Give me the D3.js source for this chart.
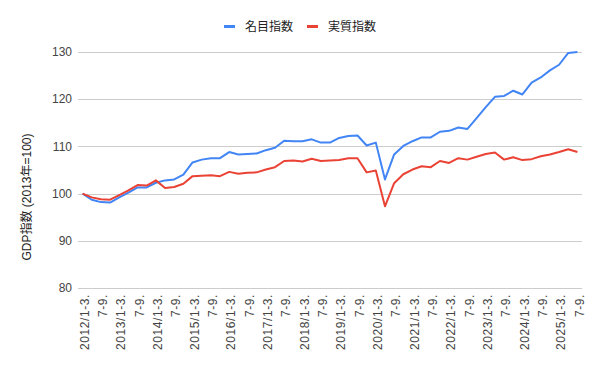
<!DOCTYPE html>
<html>
<head>
<meta charset="utf-8">
<script src="https://cdn.jsdelivr.net/npm/d3@7"></script>
<style>
  body { margin: 0; background: #fff; }
  svg { font-family: "Liberation Sans", Arial, "Noto Sans CJK JP", sans-serif; }
  .grid line { stroke: #cccccc; stroke-width: 1; shape-rendering: crispEdges; }
  .tick-label { fill: #444; font-size: 12px; }
  .x-label { letter-spacing: 0.6px; }
  .legend-text { fill: #222; font-size: 12px; font-family: "Noto Sans CJK JP", sans-serif; }
</style>
</head>
<body>
<div id="chart"></div>
<script>
// quarters, 2012/1-3 .. 2025/7-9
const years = [2012, 2013, 2014, 2015, 2016, 2017, 2018, 2019, 2020, 2021, 2022, 2023, 2024, 2025];
const quarterNames = ['1-3.', '4-6.', '7-9.', '10-12.'];
const yTicks = [80, 90, 100, 110, 120, 130];

// 名目指数 (nominal)
const nominal = [100, 98.7, 98.2, 98.1, 99.2, 100.2, 101.3, 101.3, 102.3, 102.8,
  103.0, 104.0, 106.6, 107.2, 107.5, 107.5, 108.8, 108.3, 108.4, 108.5,
  109.2, 109.7, 111.2, 111.1, 111.1, 111.5, 110.8, 110.8, 111.8, 112.2,
  112.3, 110.2, 110.8, 103.0, 108.3, 110.1, 111.1, 111.9, 111.9, 113.1,
  113.3, 114.0, 113.7, 116.0, 118.3, 120.5, 120.7, 121.8, 121.0, 123.5,
  124.6, 126.1, 127.3, 129.8, 130.0];

// 実質指数 (real)
const real = [100, 99.2, 98.8, 98.7, 99.7, 100.7, 101.8, 101.7, 102.8, 101.2,
  101.4, 102.1, 103.7, 103.8, 103.9, 103.7, 104.6, 104.2, 104.4, 104.5,
  105.1, 105.6, 106.9, 107.0, 106.8, 107.4, 106.9, 107.0, 107.1, 107.5,
  107.5, 104.5, 104.9, 97.3, 102.2, 104.1, 105.1, 105.8, 105.6, 106.9,
  106.5, 107.5, 107.2, 107.8, 108.4, 108.7, 107.2, 107.7, 107.1, 107.3,
  107.9, 108.3, 108.8, 109.4, 108.8];

const seriesNames = ['名目指数', '実質指数'];
const colors = ['#4285f4', '#ea4335'];

// build category list (full label for 1-3, short otherwise)
const categories = [];
years.forEach(y => quarterNames.forEach((q, i) => {
  categories.push(i === 0 ? `${y}/${q}` : q);
}));
categories.length = nominal.length;
const keys = categories.map((c, i) => i);

const width = 600, height = 371;
const margin = {top: 52, right: 18, bottom: 83, left: 78};

const svg = d3.select('#chart').append('svg')
    .attr('width', width)
    .attr('height', height);

const x = d3.scalePoint()
    .domain(keys)
    .range([margin.left, width - margin.right])
    .padding(0.5);

const y = d3.scaleLinear()
    .domain([80, 130])
    .range([height - margin.bottom, margin.top]);

// gridlines
svg.append('g').attr('class', 'grid')
  .selectAll('line')
  .data(yTicks)
  .join('line')
    .attr('x1', margin.left)
    .attr('x2', width - margin.right)
    .attr('y1', d => Math.round(y(d)) + 0.5)
    .attr('y2', d => Math.round(y(d)) + 0.5);

// y tick labels
svg.append('g')
  .selectAll('text')
  .data(yTicks)
  .join('text')
    .attr('class', 'tick-label')
    .attr('x', margin.left - 6)
    .attr('y', d => y(d))
    .attr('dy', '0.35em')
    .attr('text-anchor', 'end')
    .text(d => d);

// x tick labels, every other quarter
svg.append('g')
  .selectAll('text')
  .data(keys.filter(i => i % 2 === 0))
  .join('text')
    .attr('class', 'tick-label x-label')
    .attr('text-anchor', 'end')
    .attr('transform', d => `translate(${x(d) + 2},${height - margin.bottom + 6}) rotate(-90)`)
    .attr('dy', '0.35em')
    .text(d => categories[d]);

// y axis title
svg.append('text')
    .attr('transform', `translate(27,197) rotate(-90)`)
    .attr('text-anchor', 'middle')
    .attr('dy', '0.35em')
    .attr('fill', '#222')
    .style('font-size', '12px')
    .text('GDP指数 (2013年=100)');

// lines
const line = d3.line()
    .x((d, i) => x(i))
    .y(d => y(d));

[nominal, real].forEach((s, k) => {
  svg.append('path')
      .datum(s)
      .attr('fill', 'none')
      .attr('stroke', colors[k])
      .attr('stroke-width', 2)
      .attr('stroke-linejoin', 'round')
      .attr('d', line);
});

// legend
const legend = svg.append('g');
const legendX = [224, 307];
seriesNames.forEach((name, k) => {
  legend.append('rect')
      .attr('x', legendX[k])
      .attr('y', 25)
      .attr('width', 11)
      .attr('height', 3)
      .attr('fill', colors[k]);
  legend.append('text')
      .attr('class', 'legend-text')
      .attr('x', legendX[k] + 21)
      .attr('y', 26.5)
      .attr('dy', '0.35em')
      .text(name);
});
</script>
</body>
</html>
